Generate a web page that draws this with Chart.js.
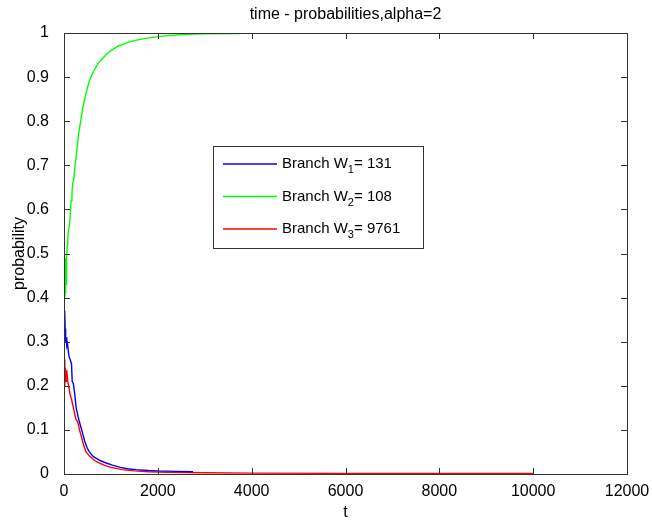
<!DOCTYPE html>
<html>
<head>
<meta charset="utf-8">
<script src="https://cdn.jsdelivr.net/npm/chart.js@4"></script>
<style>
	html, body { margin: 0; padding: 0; background: #fff; }
	#chart-box { width: 652px; height: 523px; }
</style>
</head>
<body>
<div id="chart-box"><canvas id="chart-prob"></canvas></div>
<script>
// values: [t, probability]
const w1_data = [
	[0, 0.33], [15, 0.37], [25, 0.33], [35, 0.30], [45, 0.31], [60, 0.29],
	[75, 0.295], [90, 0.28], [110, 0.265], [130, 0.26], [160, 0.25], [175, 0.21],
	[200, 0.205], [230, 0.18], [260, 0.15], [300, 0.13], [350, 0.11], [390, 0.095],
	[440, 0.075], [490, 0.06], [540, 0.05], [620, 0.04], [700, 0.035], [780, 0.03],
	[900, 0.025], [1030, 0.02], [1200, 0.015], [1350, 0.012], [1530, 0.01],
	[1800, 0.008], [2000, 0.007], [2400, 0.006], [2750, 0.005],
];

const w2_data = [
	[0, 0.45], [20, 0.40], [25, 0.47], [30, 0.41], [40, 0.49], [45, 0.43], [50, 0.50],
	[60, 0.49], [70, 0.52], [80, 0.53], [90, 0.55], [110, 0.56], [130, 0.58],
	[150, 0.62], [170, 0.64], [190, 0.66], [210, 0.67], [235, 0.70], [270, 0.73],
	[310, 0.77], [355, 0.80], [400, 0.83], [460, 0.86], [510, 0.88], [570, 0.90],
	[640, 0.915], [720, 0.93], [800, 0.94], [890, 0.95], [1000, 0.96], [1150, 0.97],
	[1390, 0.98], [1600, 0.985], [1880, 0.99], [2200, 0.994], [2600, 0.997],
	[3000, 0.998], [3750, 0.999],
];

const w3_data = [
	[0, 0.20], [15, 0.26], [20, 0.23], [30, 0.24], [45, 0.21], [60, 0.235],
	[80, 0.21], [100, 0.20], [130, 0.18], [160, 0.17], [190, 0.155], [220, 0.14],
	[250, 0.125], [280, 0.12], [300, 0.115], [330, 0.10], [370, 0.085], [420, 0.065],
	[470, 0.05], [550, 0.04], [660, 0.03], [750, 0.025], [850, 0.02], [1000, 0.015],
	[1240, 0.01], [1500, 0.007], [1800, 0.005], [2200, 0.004], [3000, 0.003],
	[4000, 0.002], [6000, 0.0015], [8000, 0.001], [10000, 0.001],
];

const series_names = ['Branch W', 'Branch W', 'Branch W'];
const series_subs = ['1', '2', '3'];
const series_tails = ['= 131', '= 108', '= 9761'];
const series_colors = ['#0000ff', '#00ff00', '#ff0000'];

const x_ticks = [0, 2000, 4000, 6000, 8000, 10000, 12000];
const y_ticks = [0, 0.1, 0.2, 0.3, 0.4, 0.5, 0.6, 0.7, 0.8, 0.9, 1];

const chart_title = 'time - probabilities,alpha=2';
const axis_color = '#333';
const font_family = '"Liberation Sans", Arial, sans-serif';

function toPoints(arr) {
	return arr.map(p => ({ x: p[0], y: p[1] }));
}

const data = {
	datasets: [w1_data, w2_data, w3_data].map((d, i) => ({
		label: series_names[i] + series_subs[i] + series_tails[i],
		data: toPoints(d),
		borderColor: series_colors[i],
		backgroundColor: series_colors[i],
		borderWidth: 1.4,
		pointRadius: 0,
		fill: false,
		tension: 0
	}))
};

// box around the plot with inward ticks on all four sides, matlab style
const boxPlugin = {
	id: 'box',
	afterDatasetsDraw(chart) {
		const { ctx, chartArea: a, scales } = chart;
		ctx.save();
		ctx.strokeStyle = axis_color;
		ctx.lineWidth = 1;
		ctx.strokeRect(a.left + 0.5, a.top + 0.5, a.right - a.left, a.bottom - a.top);
		ctx.beginPath();
		x_ticks.forEach(v => {
			const px = Math.round(scales.x.getPixelForValue(v)) + 0.5;
			ctx.moveTo(px, a.bottom); ctx.lineTo(px, a.bottom - 6);
			ctx.moveTo(px, a.top); ctx.lineTo(px, a.top + 6);
		});
		y_ticks.forEach(v => {
			const py = Math.round(scales.y.getPixelForValue(v)) + 0.5;
			ctx.moveTo(a.left, py); ctx.lineTo(a.left + 6, py);
			ctx.moveTo(a.right, py); ctx.lineTo(a.right - 6, py);
		});
		ctx.stroke();

		// title, centred over the plot area
		ctx.fillStyle = '#000';
		ctx.font = '16px ' + font_family;
		ctx.textAlign = 'center';
		ctx.textBaseline = 'alphabetic';
		ctx.fillText(chart_title, (a.left + a.right) / 2, 19);

		// legend with subscripts
		const x0 = a.left + 149, y0 = a.top + 113, w = 210, h = 102;
		ctx.fillStyle = '#fff';
		ctx.fillRect(x0, y0, w, h);
		ctx.strokeStyle = axis_color;
		ctx.strokeRect(x0 + 0.5, y0 + 0.5, w, h);
		ctx.textAlign = 'left';
		ctx.textBaseline = 'middle';
		for (let i = 0; i < 3; i++) {
			const cy = y0 + 18 + i * 32.5;
			ctx.strokeStyle = series_colors[i];
			ctx.lineWidth = 1.5;
			ctx.beginPath();
			ctx.moveTo(x0 + 10, cy);
			ctx.lineTo(x0 + 64, cy);
			ctx.stroke();
			ctx.fillStyle = '#000';
			let tx = x0 + 69;
			ctx.font = '15px ' + font_family;
			ctx.fillText(series_names[i], tx, cy);
			tx += ctx.measureText(series_names[i]).width;
			ctx.font = '11px ' + font_family;
			ctx.fillText(series_subs[i], tx, cy + 6);
			tx += ctx.measureText(series_subs[i]).width;
			ctx.font = '15px ' + font_family;
			ctx.fillText(series_tails[i], tx, cy);
		}
		ctx.restore();
	}
};

const config = {
	type: 'line',
	data: data,
	options: {
		responsive: false,
		animation: false,
		layout: { padding: { top: 33, right: 25, left: 0, bottom: 0 } },
		plugins: {
			legend: { display: false },
			tooltip: { enabled: false },
			title: { display: false },
		},
		scales: {
			x: {
				type: 'linear',
				min: 0,
				max: 12000,
				afterBuildTicks: s => { s.ticks = x_ticks.map(v => ({ value: v })); },
				afterFit: s => { s.height = 49; },
				grid: { display: false },
				border: { display: false },
				ticks: {
					color: '#000',
					padding: 0,
					maxRotation: 0,
					font: { family: font_family, size: 16 },
					callback: v => String(v)
				},
				title: {
					display: true,
					text: 't',
					color: '#000',
					padding: { top: 0, bottom: 1 },
					font: { family: font_family, size: 16 }
				}
			},
			y: {
				min: 0,
				max: 1,
				afterBuildTicks: s => { s.ticks = y_ticks.map(v => ({ value: v })); },
				afterFit: s => { s.width = 64; },
				grid: { display: false },
				border: { display: false },
				ticks: {
					color: '#000',
					padding: 7,
					font: { family: font_family, size: 16 },
					callback: v => String(v)
				},
				title: {
					display: true,
					text: 'probability',
					color: '#000',
					padding: { top: 10, bottom: 0 },
					font: { family: font_family, size: 16 }
				}
			}
		}
	},
	plugins: [boxPlugin]
};

document.addEventListener('DOMContentLoaded', () => {
	const ctx = document.getElementById('chart-prob');
	ctx.width = 652;
	ctx.height = 523;
	const chartProb = new Chart(ctx, config);
});
</script>
</body>
</html>
